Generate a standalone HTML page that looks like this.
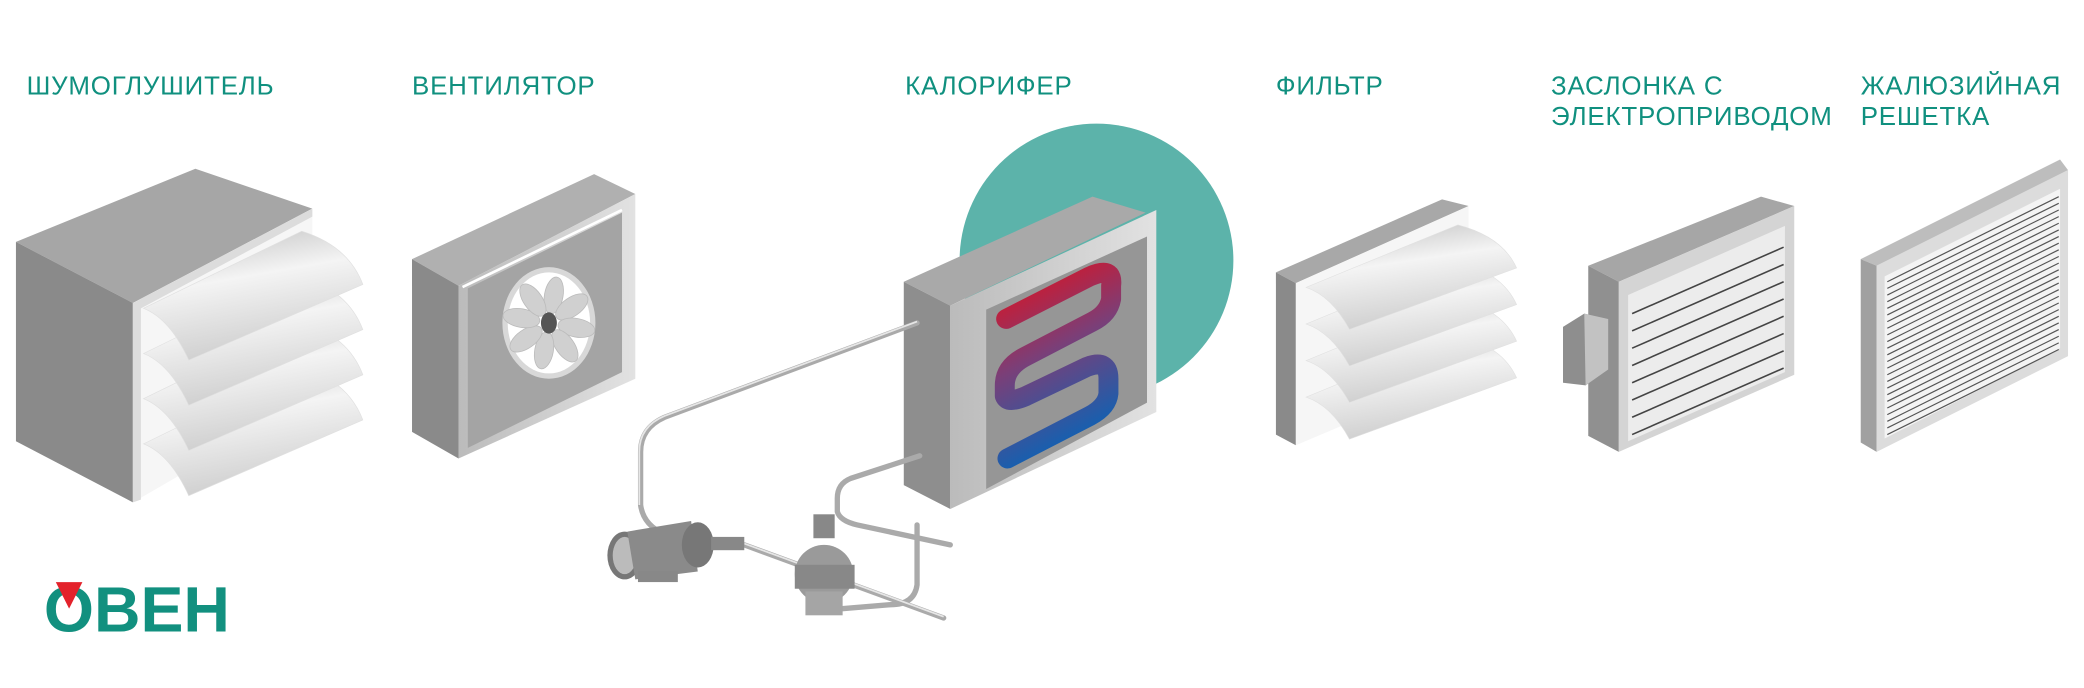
<!DOCTYPE html>
<html><head><meta charset="utf-8"><style>
html,body{margin:0;padding:0;background:#fff;}
svg{display:block}
.lb{font-family:"Liberation Sans","DejaVu Sans",sans-serif;font-size:19.5px;fill:#10907f;letter-spacing:0.6px}
</style></head><body>
<svg width="2084" height="688" viewBox="0 0 1568 517.7" preserveAspectRatio="none" xmlns="http://www.w3.org/2000/svg">
<defs>
<linearGradient id="lv" x1="0" y1="0" x2="0.3" y2="1"><stop offset="0" stop-color="#bdbdbd"/><stop offset="0.45" stop-color="#f4f4f4"/><stop offset="1" stop-color="#cfcfcf"/></linearGradient>
<linearGradient id="sp" x1="0" y1="0" x2="0.3" y2="1"><stop offset="0" stop-color="#e0101f"/><stop offset="0.5" stop-color="#7a3f78"/><stop offset="1" stop-color="#1560b0"/></linearGradient>
<linearGradient id="fr" x1="0" y1="0" x2="1" y2="0"><stop offset="0" stop-color="#bbb"/><stop offset="1" stop-color="#e2e2e2"/></linearGradient>
<g id="lvs" fill="url(#lv)" stroke="#e0e0e0" stroke-width="0.5">
<path d="M108,334 L227,276 Q262,287 273,316 L142,373 Q128,342 108,334Z"/>
<path d="M108,300 L227,242 Q262,253 273,282 L142,339 Q128,308 108,300Z"/>
<path d="M108,266 L227,208 Q262,219 273,248 L142,305 Q128,274 108,266Z"/>
<path d="M108,232 L227,174 Q262,185 273,214 L142,271 Q128,240 108,232Z"/>
</g>
</defs>
<text class="lb" x="20" y="71">ШУМОГЛУШИТЕЛЬ</text>
<text class="lb" x="310" y="71">ВЕНТИЛЯТОР</text>
<text class="lb" x="681" y="71">КАЛОРИФЕР</text>
<text class="lb" x="960" y="71">ФИЛЬТР</text>
<text class="lb" x="1167" y="71">ЗАСЛОНКА С</text>
<text class="lb" x="1167" y="94">ЭЛЕКТРОПРИВОДОМ</text>
<text class="lb" x="1400" y="71">ЖАЛЮЗИЙНАЯ</text>
<text class="lb" x="1400" y="94">РЕШЕТКА</text>

<!-- silencer -->
<polygon points="12,182 147,127 235,157 100,228" fill="#a6a6a6"/>
<polygon points="12,182 100,228 100,378 12,332" fill="#8a8a8a"/>
<polygon points="100,228 235,157 235,300 100,378" fill="#f6f6f6"/>
<polygon points="100,228 235,157 235,163 106,232 106,376 100,378" fill="#dcdcdc"/>
<use href="#lvs"/>
<!-- fan -->
<polygon points="310,195 447,131 478,146 345,215" fill="#b0b0b0"/>
<polygon points="310,195 345,215 345,345 310,325" fill="#8a8a8a"/>
<polygon points="345,215 478,146 478,285 345,345" fill="url(#fr)"/>
<polygon points="352,217 468,160 468,280 352,337" fill="#a4a4a4"/>
<line x1="348" y1="216" x2="468" y2="158" stroke="#fff" stroke-width="2"/>
<ellipse cx="413" cy="243" rx="35" ry="42" fill="#d8d8d8"/>
<ellipse cx="413" cy="243" rx="31" ry="38" fill="#fff"/>
<g fill="#d0d0d0" stroke="#bbb" stroke-width="0.6">
<ellipse cx="413" cy="222" rx="7" ry="14" transform="rotate(10 413 243)"/>
<ellipse cx="413" cy="222" rx="7" ry="14" transform="rotate(55 413 243)"/>
<ellipse cx="413" cy="222" rx="7" ry="14" transform="rotate(100 413 243)"/>
<ellipse cx="413" cy="222" rx="7" ry="14" transform="rotate(145 413 243)"/>
<ellipse cx="413" cy="222" rx="7" ry="14" transform="rotate(190 413 243)"/>
<ellipse cx="413" cy="222" rx="7" ry="14" transform="rotate(235 413 243)"/>
<ellipse cx="413" cy="222" rx="7" ry="14" transform="rotate(280 413 243)"/>
<ellipse cx="413" cy="222" rx="7" ry="14" transform="rotate(325 413 243)"/>
</g>
<ellipse cx="413" cy="243" rx="6" ry="8" fill="#555"/>

<!-- heater -->
<circle cx="825" cy="196" r="103" fill="#5cb3aa"/>
<polygon points="680,212 822,148 862,160 715,230" fill="#a9a9a9"/>
<polygon points="680,212 715,230 715,383 680,365" fill="#8e8e8e"/>
<polygon points="715,230 870,158 870,310 715,383" fill="url(#fr)"/>
<polygon points="742,233 863,178 863,303 742,368" fill="#969696"/>
<path d="M757,240 L820,208 Q838,200 836,215 L836,225 Q834,236 822,242 L772,268 Q756,276 756,290 L756,298 Q758,304 772,298 L818,276 Q834,270 834,285 L834,296 Q833,306 820,313 L758,345" fill="none" stroke="url(#sp)" stroke-width="15" stroke-linecap="round" stroke-linejoin="round"/>
<!-- pipes -->
<g fill="none" stroke="#aaa" stroke-width="4" stroke-linecap="round">
<path d="M690,243 L500,314 Q482,322 482,340 L482,380 Q484,395 500,402"/>
<path d="M692,343 L640,360 Q630,364 630,375 L630,385 Q632,392 645,395 L715,410"/>
<path d="M560,410 L710,465"/>
<path d="M690,395 L690,440 Q688,455 670,455 L610,460"/>
</g>
<g fill="none" stroke="#e6e6e6" stroke-width="1.3">
<path d="M690,242 L500,313 Q481,321 481,340 L481,380"/>
<path d="M560,409 L710,464"/>
</g>
<!-- motor -->
<ellipse cx="470" cy="418" rx="13" ry="18" fill="#777"/>
<ellipse cx="470" cy="418" rx="9" ry="14" fill="#bbb"/>
<polygon points="472,400 520,392 525,430 478,436" fill="#8a8a8a"/>
<rect x="480" y="430" width="30" height="8" fill="#888"/>
<ellipse cx="525" cy="410" rx="12" ry="17" fill="#777"/>
<rect x="535" y="404" width="25" height="10" fill="#888"/>
<!-- valve -->
<rect x="612" y="387" width="16" height="18" fill="#888"/>
<ellipse cx="620" cy="432" rx="22" ry="22" fill="#9a9a9a"/>
<rect x="598" y="425" width="45" height="18" fill="#888"/>
<rect x="606" y="445" width="28" height="18" fill="#a5a5a5"/>

<!-- filter -->
<polygon points="960,205 1085,150 1105,155 975,213" fill="#a8a8a8"/>
<polygon points="960,205 975,213 975,335 960,327" fill="#8a8a8a"/>
<polygon points="975,213 1105,155 1105,280 975,335" fill="#f6f6f6"/>
<use href="#lvs" transform="translate(975,213) scale(0.96,0.81) translate(-100,-228)"/>

<!-- damper -->
<polygon points="1195,200 1325,148 1350,155 1218,212" fill="#a6a6a6"/>
<polygon points="1195,200 1218,212 1218,340 1195,328" fill="#909090"/>
<polygon points="1218,212 1350,155 1350,282 1218,340" fill="#d4d4d4"/>
<polygon points="1225,222 1343,170 1343,280 1225,332" fill="#ececec"/>
<g stroke="#444" stroke-width="1.2">
<line x1="1228" y1="236" x2="1342" y2="186"/><line x1="1228" y1="249" x2="1342" y2="199"/>
<line x1="1228" y1="262" x2="1342" y2="212"/><line x1="1228" y1="275" x2="1342" y2="225"/>
<line x1="1228" y1="288" x2="1342" y2="238"/><line x1="1228" y1="301" x2="1342" y2="251"/>
<line x1="1228" y1="314" x2="1342" y2="264"/><line x1="1228" y1="327" x2="1342" y2="277"/>
</g>
<polygon points="1176,246 1192,236 1210,240 1210,278 1193,290 1176,288" fill="#8e8e8e"/>
<polygon points="1192,236 1210,240 1210,278 1193,290" fill="#c2c2c2"/>

<!-- grille -->
<polygon points="1400,195 1550,120 1556,128 1412,200" fill="#bdbdbd"/>
<polygon points="1400,195 1412,200 1412,340 1400,333" fill="#a0a0a0"/>
<polygon points="1412,200 1556,128 1556,268 1412,340" fill="#dcdcdc"/>
<polygon points="1418,208 1550,142 1550,262 1418,330" fill="#f4f4f4"/>
<g stroke="#555" stroke-width="0.9">
<line x1="1420" y1="212" x2="1549" y2="148"/><line x1="1420" y1="217" x2="1549" y2="153"/>
<line x1="1420" y1="222" x2="1549" y2="158"/><line x1="1420" y1="227" x2="1549" y2="163"/>
<line x1="1420" y1="232" x2="1549" y2="168"/><line x1="1420" y1="237" x2="1549" y2="173"/>
<line x1="1420" y1="242" x2="1549" y2="178"/><line x1="1420" y1="247" x2="1549" y2="183"/>
<line x1="1420" y1="252" x2="1549" y2="188"/><line x1="1420" y1="257" x2="1549" y2="193"/>
<line x1="1420" y1="262" x2="1549" y2="198"/><line x1="1420" y1="267" x2="1549" y2="203"/>
<line x1="1420" y1="272" x2="1549" y2="208"/><line x1="1420" y1="277" x2="1549" y2="213"/>
<line x1="1420" y1="282" x2="1549" y2="218"/><line x1="1420" y1="287" x2="1549" y2="223"/>
<line x1="1420" y1="292" x2="1549" y2="228"/><line x1="1420" y1="297" x2="1549" y2="233"/>
<line x1="1420" y1="302" x2="1549" y2="238"/><line x1="1420" y1="307" x2="1549" y2="243"/>
<line x1="1420" y1="312" x2="1549" y2="248"/><line x1="1420" y1="317" x2="1549" y2="253"/>
<line x1="1420" y1="322" x2="1549" y2="258"/><line x1="1420" y1="327" x2="1549" y2="263"/>
</g>

<!-- logo -->
<text x="33" y="475" font-family="'Liberation Sans',sans-serif" font-weight="bold" font-size="48" fill="#12907f" textLength="140" lengthAdjust="spacingAndGlyphs">ОВЕН</text>
<polygon points="42,438 62,438 52,458" fill="#e3222b"/>
</svg>
</body></html>
